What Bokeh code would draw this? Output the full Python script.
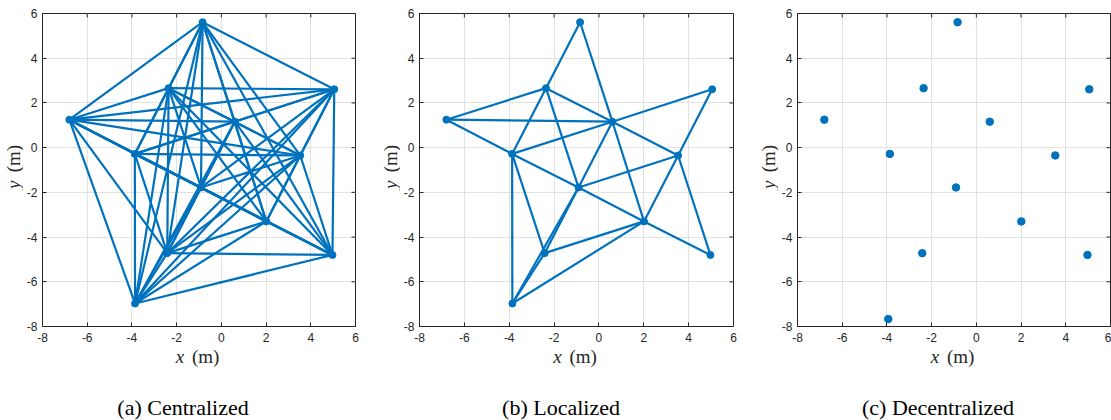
import itertools
from math import pi
from bokeh.plotting import figure
from bokeh.models import ColumnDataSource, FixedTicker, Range1d
from bokeh.core.properties import value
from bokeh.layouts import row, column
from bokeh.embed import file_html
from bokeh.resources import INLINE

# ---- data ----
node_x = [-0.84, -2.36, 5.05, -6.80, 0.60, -3.87, 3.53, -0.91, 2.01, -2.42, 4.97, -3.86]
node_y = [5.61, 2.66, 2.61, 1.25, 1.16, -0.28, -0.35, -1.78, -3.30, -4.72, -4.80, -6.97]

dec_x = [-0.84, -2.36, 5.05, -6.80, 0.60, -3.87, 3.53, -0.91, 2.01, -2.42, 4.97, -3.94]
dec_y = [5.61, 2.66, 2.61, 1.25, 1.16, -0.28, -0.35, -1.78, -3.30, -4.72, -4.80, -7.67]

# centralized: every pair of nodes linked
central_edges = list(itertools.combinations(range(12), 2))

# localized links (node indices, 0-based)
local_from = [0, 0, 4, 1, 1, 1, 4, 1, 3, 3, 5, 7, 8, 5, 4, 5, 5, 7, 6, 6, 6, 9, 11, 11, 11, 9, 7]
local_to   = [1, 4, 8, 3, 5, 4, 6, 7, 4, 5, 7, 8, 10, 4, 2, 9, 11, 6, 8, 2, 10, 8, 8, 9, 7, 7, 4]

x_ticks = [-8, -6, -4, -2, 0, 2, 4, 6]
y_ticks = [-8, -6, -4, -2, 0, 2, 4, 6]
x_var, y_var, unit = "x", "y", "(m)"
captions = ["(a) Centralized", "(b) Localized", "(c) Decentralized"]

BLUE = "#0072BD"
AX = "#262626"

# ---- layout constants (pixels) ----
W, H = 1111, 420
MAIN_H = 347              # height of the row holding the axes
FRAME_TOP, FRAME_H = 13, 313
frame_left = [42, 419, 797]
frame_w = [313, 314, 313]
right_border = [17, 17, 1]
strip_left = [0, 372, 750]   # narrow strips carrying the y labels
LEFT_B = 19                  # border between strip and frame (tick labels)
cap_center = [182.5, 560.5, 937.5]
CAP_Y = 407
XLAB_Y = 356


def make_panel(k, edges=None, xs=None, ys=None, msize=7):
    width = LEFT_B + frame_w[k] + right_border[k]
    p = figure(width=width, height=MAIN_H, x_range=Range1d(-8, 6), y_range=Range1d(-8, 6),
               output_backend="svg", toolbar_location=None,
               min_border_left=LEFT_B, min_border_right=right_border[k],
               min_border_top=FRAME_TOP, min_border_bottom=MAIN_H - FRAME_TOP - FRAME_H)
    p.background_fill_color = "white"
    p.border_fill_color = "white"
    p.outline_line_color = AX
    p.outline_line_width = 1

    p.xaxis.ticker = FixedTicker(ticks=x_ticks)
    p.yaxis.ticker = FixedTicker(ticks=y_ticks)
    p.xaxis.major_label_overrides = {t: str(t) for t in x_ticks}
    p.yaxis.major_label_overrides = {t: str(t) for t in y_ticks}
    p.axis.major_tick_in = 4
    p.axis.major_tick_out = 0
    p.axis.minor_tick_line_color = None
    p.axis.axis_line_color = AX
    p.axis.major_tick_line_color = AX
    p.axis.major_label_text_font = "Liberation Sans"
    p.axis.major_label_text_font_size = "12px"
    p.axis.major_label_text_color = AX
    p.xaxis.major_label_standoff = 6
    p.yaxis.major_label_standoff = 5

    p.xgrid.ticker = FixedTicker(ticks=x_ticks)
    p.ygrid.ticker = FixedTicker(ticks=y_ticks)
    p.grid.grid_line_color = "#e2e2e2"
    p.grid.grid_line_width = 1

    # inward ticks on the top and right sides of the box
    p.ray(x=x_ticks, y=[6] * len(x_ticks), length=4, length_units="screen",
          angle=-pi / 2, line_color=AX, line_width=1)
    p.ray(x=[6] * len(y_ticks), y=y_ticks, length=4, length_units="screen",
          angle=pi, line_color=AX, line_width=1)

    if edges is not None:
        src = ColumnDataSource(dict(
            x0=[xs[i] for i, j in edges], y0=[ys[i] for i, j in edges],
            x1=[xs[j] for i, j in edges], y1=[ys[j] for i, j in edges]))
        p.segment("x0", "y0", "x1", "y1", source=src, line_color=BLUE, line_width=2.2)
    p.scatter(xs, ys, size=msize, fill_color=BLUE, line_color=BLUE)
    return p


def blank(width, height, x0, x1, y0, y1):
    f = figure(width=width, height=height, x_range=Range1d(x0, x1), y_range=Range1d(y0, y1),
               output_backend="svg", toolbar_location=None, x_axis_type=None, y_axis_type=None,
               min_border=0)
    f.outline_line_color = None
    f.background_fill_color = "white"
    f.border_fill_color = "white"
    f.xgrid.visible = False
    f.ygrid.visible = False
    return f


def ylabel_strip(k):
    sw = (frame_left[k] - LEFT_B) - strip_left[k]
    s = blank(sw, MAIN_H, strip_left[k], strip_left[k] + sw, 0, MAIN_H)
    cx = frame_left[k] - 29
    s.text(x=[cx], y=[MAIN_H - 190], text=[y_var], angle=pi / 2,
           text_font=value("Liberation Serif"), text_font_style=value("italic"),
           text_font_size=value("19px"), text_align="center", text_baseline="middle",
           text_color=AX)
    s.text(x=[cx], y=[MAIN_H - 176], text=[unit], angle=pi / 2,
           text_font=value("Liberation Serif"), text_font_style=value("normal"),
           text_font_size=value("19px"), text_align="left", text_baseline="middle",
           text_color=AX)
    return s


pa = make_panel(0, edges=central_edges, xs=node_x, ys=node_y, msize=7)
pb = make_panel(1, edges=list(zip(local_from, local_to)), xs=node_x, ys=node_y, msize=7)
pc = make_panel(2, edges=None, xs=dec_x, ys=dec_y, msize=7.5)

ya, yb, yc = ylabel_strip(0), ylabel_strip(1), ylabel_strip(2)

# bottom strip: x-axis labels and sub-captions (y measured upward from page bottom)
bh = H - MAIN_H
bottom = blank(W, bh, 0, W, 0, bh)
centers = [frame_left[k] + frame_w[k] / 2 for k in range(3)]
bottom.text(x=[c - 19 for c in centers], y=[H - XLAB_Y] * 3, text=[x_var] * 3,
            text_font=value("Liberation Serif"), text_font_style=value("italic"),
            text_font_size=value("19px"), text_align="center", text_baseline="middle",
            text_color=AX)
bottom.text(x=[c - 7 for c in centers], y=[H - XLAB_Y] * 3, text=[unit] * 3,
            text_font=value("Liberation Serif"), text_font_style=value("normal"),
            text_font_size=value("19px"), text_align="left", text_baseline="middle",
            text_color=AX)
bottom.text(x=cap_center, y=[H - CAP_Y] * 3, text=captions,
            text_font=value("Liberation Serif"), text_font_style=value("normal"),
            text_font_size=value("22px"), text_align="center", text_baseline="middle",
            text_color="black")

layout = column(row(ya, pa, yb, pb, yc, pc, spacing=0), bottom, spacing=0)
open("out.html", "w").write(file_html(layout, INLINE))
